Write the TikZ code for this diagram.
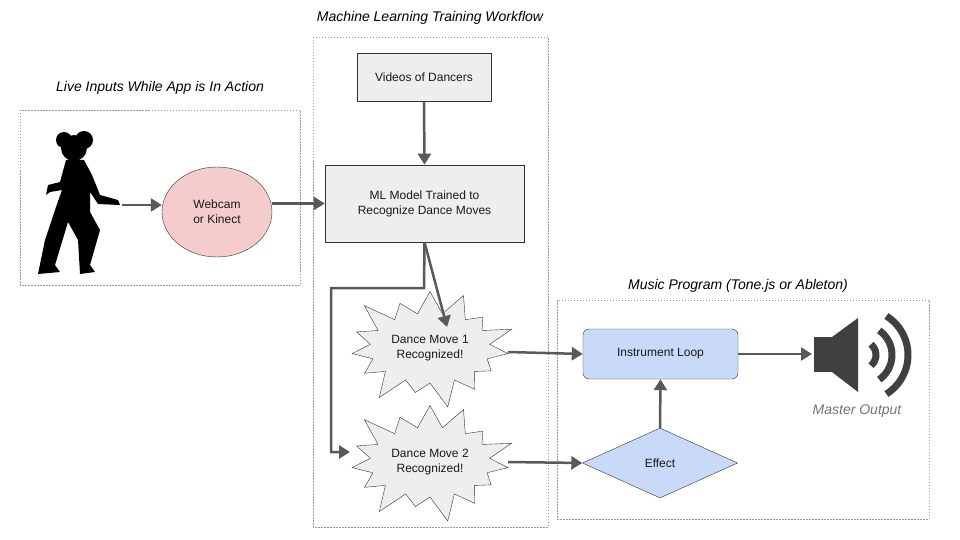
\documentclass[tikz,border=0pt]{standalone}
\usepackage{fontspec}
\setmainfont{Liberation Sans}
\usetikzlibrary{shapes.symbols,shapes.geometric,arrows.meta}
\definecolor{arr}{HTML}{595959}
\definecolor{pinkf}{HTML}{F4CCCC}
\definecolor{bluef}{HTML}{C9DAF8}
\definecolor{greyf}{HTML}{EEEEEE}
\tikzset{
 grp/.style={draw=gray!80,dash pattern=on 1.5pt off 1.5pt,line width=0.6pt},
 ttl/.style={font=\fontsize{14}{16}\selectfont\itshape},
 lbl/.style={font=\fontsize{12}{15}\selectfont,align=center,text=black!90},
 con/.style={draw=arr,line width=2.5pt,-{Triangle[length=11pt,width=13pt]}},
 boxg/.style={draw=black!80,fill=greyf,line width=0.6pt},
 burst/.style={starburst,starburst points=15,starburst point height=30pt,draw=black!80,fill=greyf,minimum width=180pt,minimum height=130pt,lbl,inner sep=0pt},
}
\begin{document}
\begin{tikzpicture}[x=1pt,y=-1pt]
\useasboundingbox (0,0) rectangle (960,540);
% groups
\draw[grp] (20,110) rectangle (300,285);
\node[ttl] (t1) at (160,88) {Live Inputs While App is In Action};
\draw[grp] (313,37) rectangle (548,527);
\node[ttl] (t2) at (430,18) {Machine Learning Training Workflow};
\draw[grp] (557,300) rectangle (929,519);
\node[ttl] (t3) at (738,286) {Music Program (Tone.js or Ableton)};
% dancer silhouette
\fill[black] (74,148) circle (13) (84,140) circle (9) (64,140) circle (8);
\fill[black] (66,160) -- (84,160) -- (92,175) -- (100,195) -- (118,200) -- (120,205) -- (98,204) -- (90,192) -- (90,212) -- (100,230) -- (90,265) -- (95,272) -- (80,274) -- (78,240) -- (68,222) -- (55,265) -- (60,272) -- (38,274) -- (45,240) -- (55,210) -- (62,190) -- (50,192) -- (46,195) -- (48,185) -- (60,182) -- cycle;
\coordinate (dancer) at (122,205);
% nodes
\node[ellipse,draw=black!80,fill=pinkf,minimum width=110pt,minimum height=90pt,lbl] (web) at (217,212) {Webcam\\or Kinect};
\node[boxg,minimum width=134pt,minimum height=48pt,lbl] (vid) at (424,77) {Videos of Dancers};
\node[boxg,minimum width=199pt,minimum height=77pt,lbl] (ml) at (424.5,203.5) {ML Model Trained to\\Recognize Dance Moves};
\node[burst] (s1) at (430,348) {Dance Move 1\\Recognized!};
\node[burst] (s2) at (430,462) {Dance Move 2\\Recognized!};
\node[draw=black!80,fill=bluef,rounded corners=6pt,minimum width=155pt,minimum height=50pt,lbl] (inst) at (660.5,354) {Instrument Loop};
\node[diamond,aspect=2.2,draw=black!80,fill=bluef,minimum width=155pt,minimum height=70pt,inner sep=0pt,lbl] (eff) at (660,463) {Effect};
% speaker
\coordinate (spk) at (812,354);
\fill[black!75] (814,337) rectangle (834,372);
\fill[black!75] (832,337) -- (858,318) -- (858,392) -- (832,372) -- cycle;
\draw[black!75,line width=7pt] ([shift={(-50:14)}]862,355) arc (-50:50:14);
\draw[black!75,line width=7pt] ([shift={(-55:30)}]862,355) arc (-55:55:30);
\draw[black!75,line width=7pt] ([shift={(-58:46)}]862,355) arc (-58:58:46);
\node[font=\fontsize{14}{16}\selectfont\itshape,text=black!55] (mo) at (857,411) {Master Output};
% connectors
\draw[con] (dancer) -- (web.west |- dancer);
\draw[con] (web.east |- ml.west) -- (ml.west);
\draw[con] (vid.south) -- (ml.north);
\draw[con] (ml.south) -- (447,327);
\draw[con] (ml.south) -- (424,288) -- (331,288) -- (331,452) -- (350,452);
\draw[con] (508,352) -- (inst.west);
\draw[con] (508,462) -- (eff.west);
\draw[con] (eff.north) -- (inst.south);
\draw[con] (inst.east) -- (spk);
\end{tikzpicture}
\end{document}
